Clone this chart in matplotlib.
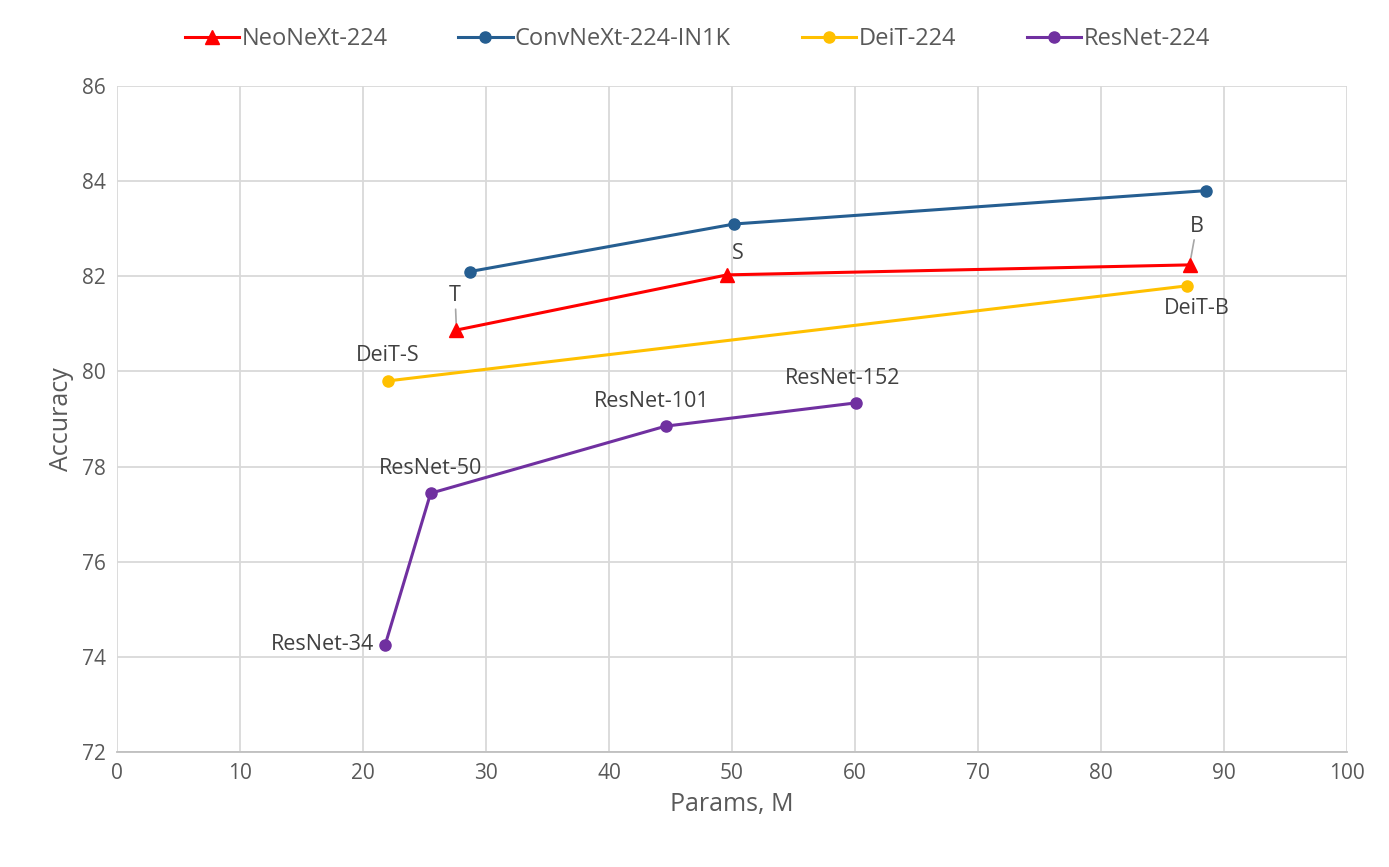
import matplotlib.pyplot as plt

plt.rcParams['font.family'] = ['Open Sans', 'DejaVu Sans']

# data
neo_params = [27.6, 49.6, 87.2]
neo_acc = [80.87, 82.03, 82.24]
neo_labels = ["T", "S", "B"]

conv_params = [28.7, 50.2, 88.5]
conv_acc = [82.1, 83.1, 83.8]

deit_params = [22.0, 87.0]
deit_acc = [79.8, 81.8]
deit_labels = ["DeiT-S", "DeiT-B"]

res_params = [21.8, 25.5, 44.6, 60.1]
res_acc = [74.25, 77.44, 78.85, 79.34]
res_labels = ["ResNet-34", "ResNet-50", "ResNet-101", "ResNet-152"]

txt = "#595959"

fig = plt.figure(figsize=(13.89, 8.67), dpi=100)
ax = fig.add_axes([0.0842, 0.1326, 0.8856, 0.7682])

ax.plot(neo_params, neo_acc, color="#FF0000", lw=2.2, marker="^", ms=10, label="NeoNeXt-224", zorder=4)
ax.plot(conv_params, conv_acc, color="#255E91", lw=2.2, marker="o", ms=8, label="ConvNeXt-224-IN1K", zorder=3)
ax.plot(deit_params, deit_acc, color="#FFC000", lw=2.2, marker="o", ms=8, label="DeiT-224", zorder=3)
ax.plot(res_params, res_acc, color="#7030A0", lw=2.2, marker="o", ms=8, label="ResNet-224", zorder=3)

fs = 15.5
# NeoNeXt labels (T and B have grey leader lines)
ax.annotate(neo_labels[0], (neo_params[0], neo_acc[0]), xytext=(-1, 17), textcoords="offset points",
            ha="center", va="bottom", fontsize=fs, color="#404040",
            arrowprops=dict(arrowstyle="-", color="#A6A6A6", lw=1.2, shrinkA=0, shrinkB=5))
ax.annotate(neo_labels[1], (neo_params[1], neo_acc[1]), xytext=(8, 8), textcoords="offset points",
            ha="center", va="bottom", fontsize=fs, color="#404040")
ax.annotate(neo_labels[2], (neo_params[2], neo_acc[2]), xytext=(5, 20), textcoords="offset points",
            ha="center", va="bottom", fontsize=fs, color="#404040",
            arrowprops=dict(arrowstyle="-", color="#A6A6A6", lw=1.2, shrinkA=0, shrinkB=5))

ax.annotate(deit_labels[0], (deit_params[0], deit_acc[0]), xytext=(0, 11), textcoords="offset points",
            ha="center", va="bottom", fontsize=fs, color="#404040")
ax.annotate(deit_labels[1], (deit_params[1], deit_acc[1]), xytext=(7, -9), textcoords="offset points",
            ha="center", va="top", fontsize=fs, color="#404040")

res_offsets = [(-8, 0), (0, 10), (-10, 10), (-10, 10)]
res_align = [("right", "center"), ("center", "bottom"), ("center", "bottom"), ("center", "bottom")]
for x, y, lab, off, (h, v) in zip(res_params, res_acc, res_labels, res_offsets, res_align):
    ax.annotate(lab, (x, y), xytext=off, textcoords="offset points",
                ha=h, va=v, fontsize=fs, color="#404040")

ax.set_xlim(0, 100)
ax.set_ylim(72, 86)
ax.set_xticks(range(0, 101, 10))
ax.set_yticks(range(72, 87, 2))
ax.grid(True, color="#D9D9D9", lw=1.3)
ax.set_axisbelow(True)
for s in ["top", "right", "left"]:
    ax.spines[s].set_visible(False)
ax.spines["bottom"].set_color("#BFBFBF")
ax.spines["bottom"].set_linewidth(1.3)
ax.tick_params(length=0, labelsize=15, colors=txt, pad=8)
ax.set_xlabel("Params, M", fontsize=18, color=txt, labelpad=6)
ax.set_ylabel("Accuracy", fontsize=18, color=txt, labelpad=6)

leg = fig.legend(loc="upper center", bbox_to_anchor=(0.502, 0.993), ncol=4, frameon=False,
                 fontsize=17, handlelength=2.3, handletextpad=0.1, columnspacing=3.0)
for t in leg.get_texts():
    t.set_color(txt)

fig.savefig("out.png", dpi=100)
